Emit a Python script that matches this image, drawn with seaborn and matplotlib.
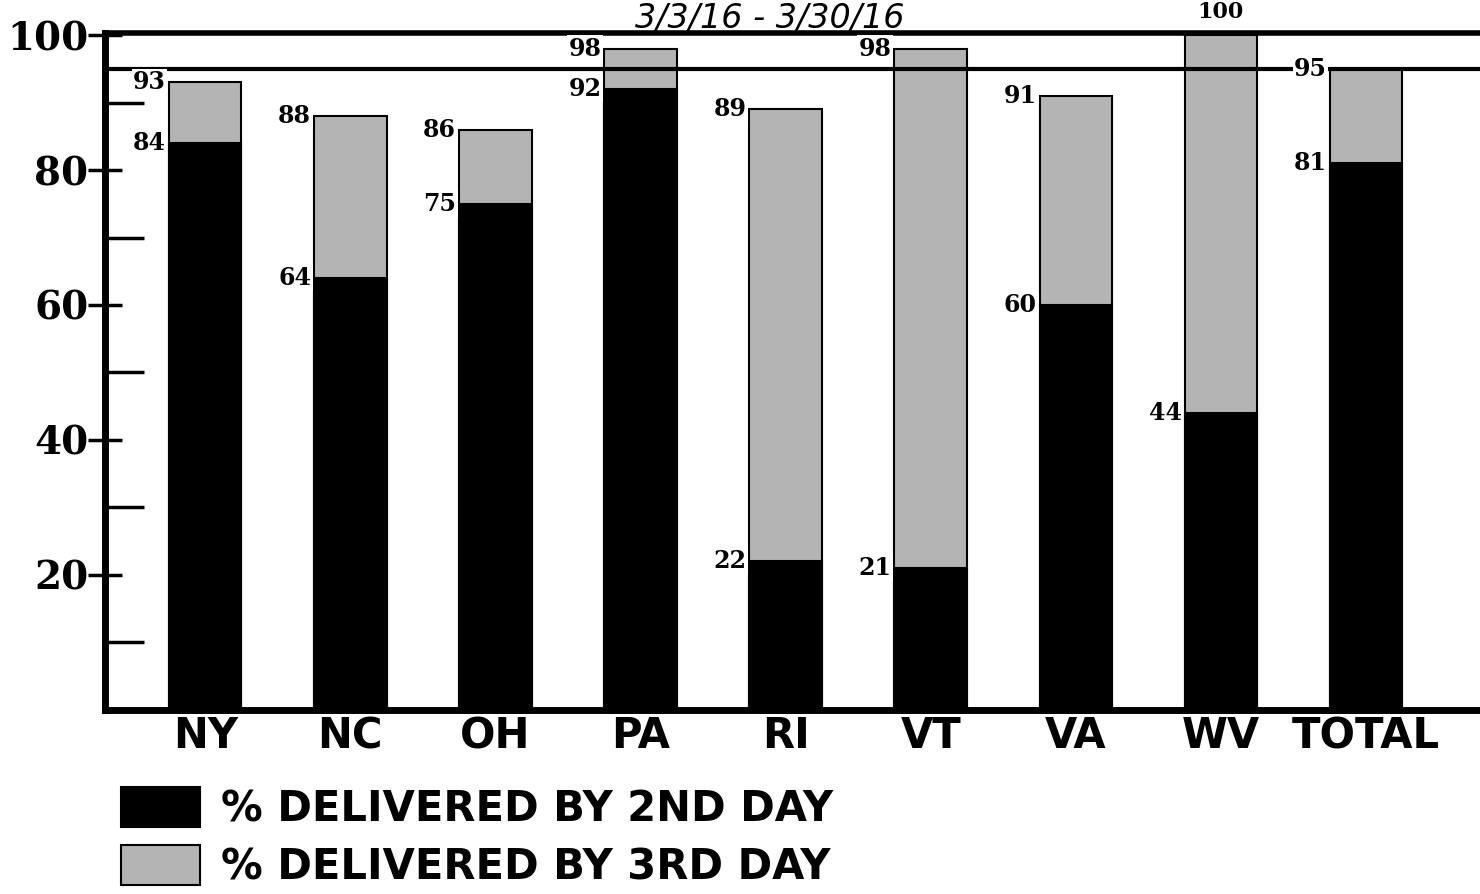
import matplotlib
matplotlib.use("Agg")
import matplotlib.pyplot as plt
import seaborn as sns
import pandas as pd

# data
states = ["NY", "NC", "OH", "PA", "RI", "VT", "VA", "WV", "TOTAL"]
day2 = [84, 64, 75, 92, 22, 21, 60, 44, 81]
day3 = [93, 88, 86, 98, 89, 98, 91, 100, 95]
target = 95
title_txt = "3/3/16 - 3/30/16"
lab2 = "% DELIVERED BY 2ND DAY"
lab3 = "% DELIVERED BY 3RD DAY"

df = pd.DataFrame({"state": states, "day2": day2, "day3": day3})

sns.set_style("white")
plt.rcParams["text.color"] = "black"
plt.rcParams["xtick.color"] = "black"
plt.rcParams["ytick.color"] = "black"
sans = ["DejaVu Sans"]
serif = ["DejaVu Serif"]

fig = plt.figure(figsize=(14.8, 8.94), dpi=100)
ax = fig.add_axes([0.071, 0.206, 0.95, 0.757])

# 3rd day total (grey) then 2nd day on top (black)
sns.barplot(data=df, x="state", y="day3", color="#b4b4b4", width=0.5,
            edgecolor="black", linewidth=1.5, saturation=1, label=lab3, ax=ax)
sns.barplot(data=df, x="state", y="day2", color="black", width=0.5,
            edgecolor="black", linewidth=1.5, saturation=1, label=lab2, ax=ax)

ax.axhline(target, color="black", lw=3, zorder=1)

ax.set_ylim(0, 100.3)
ax.set_xlim(-0.69, 9.0)
ax.set_xlabel("")
ax.set_ylabel("")

# value labels left of each bar
for i, (a, b) in enumerate(zip(day2, day3)):
    left = i - 0.27
    if b == 100:
        ax.text(i, 101.8, str(b), ha="center", va="bottom", fontsize=16,
                fontweight="bold", family=serif, clip_on=False)
    else:
        ax.text(left, b, str(b), ha="right", va="center", fontsize=17,
                fontweight="bold", family=serif,
                bbox=dict(facecolor="white", edgecolor="none", pad=1))
    ax.text(left, a, str(a), ha="right", va="center", fontsize=17,
            fontweight="bold", family=serif,
            bbox=dict(facecolor="white", edgecolor="none", pad=1))

# axes styling
ax.spines["right"].set_visible(False)
ax.spines["left"].set_linewidth(5)
ax.spines["bottom"].set_linewidth(5)
ax.spines["top"].set_linewidth(4)
for s in ["left", "bottom", "top"]:
    ax.spines[s].set_color("black")

ax.set_yticks([20, 40, 60, 80, 100])
ax.set_yticks([10, 30, 50, 70, 90], minor=True)
ax.tick_params(axis="y", which="major", direction="inout", length=24, width=2.5,
               labelsize=28, pad=0, left=True)
ax.tick_params(axis="y", which="minor", direction="in", length=28, width=2.5, left=True)
for t in ax.get_yticklabels():
    t.set_fontweight("bold")
    t.set_family(serif)

ax.tick_params(axis="x", length=0, labelsize=30, pad=4)
for t in ax.get_xticklabels():
    t.set_fontweight("bold")
    t.set_family(sans)

# legend at bottom left, 2nd day first
handles, labels = ax.get_legend_handles_labels()
order = [labels.index(lab2), labels.index(lab3)]
ax.legend([handles[k] for k in order], [labels[k] for k in order],
          loc="upper left", bbox_to_anchor=(0.062, 0.152),
          bbox_transform=fig.transFigure, frameon=False,
          handlelength=1.9, handleheight=1.1, handletextpad=0.5,
          labelspacing=0.35, borderpad=0.2,
          prop=dict(family=sans, size=30, weight="bold"))

fig.text(0.52, 0.998, title_txt, ha="center", va="top", fontsize=24,
         style="italic", family=sans)

fig.savefig("out.png", dpi=100)
